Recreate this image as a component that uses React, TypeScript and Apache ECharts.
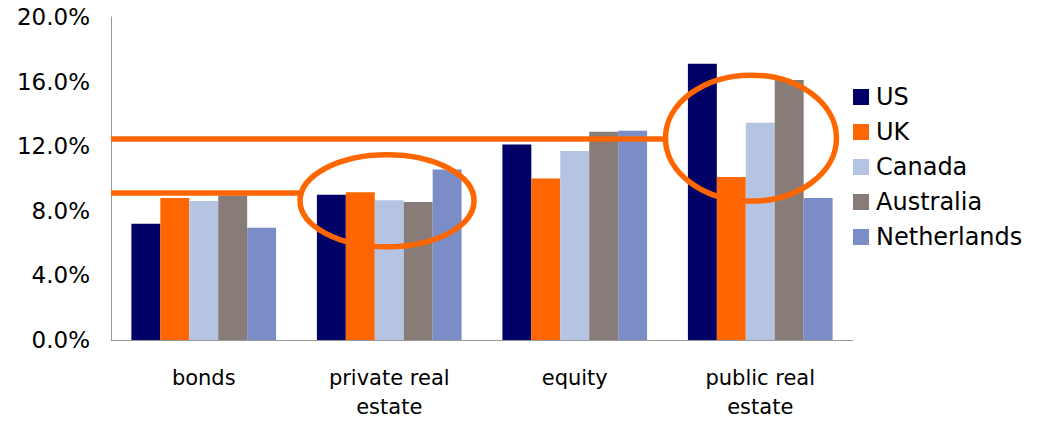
import React, { useEffect, useRef } from "react";
import * as echarts from "echarts";

const categories = ["bonds", "private real\nestate", "equity", "public real\nestate"];
const seriesNames = ["US", "UK", "Canada", "Australia", "Netherlands"];
const usValues = [7.2, 9.0, 12.1, 17.1];
const ukValues = [8.8, 9.15, 10.0, 10.1];
const canadaValues = [8.6, 8.65, 11.7, 13.45];
const australiaValues = [8.95, 8.55, 12.9, 16.1];
const netherlandsValues = [6.95, 10.55, 12.95, 8.8];
const seriesColors = ["#000066", "#FF6600", "#B4C4E2", "#877C77", "#7A8DC6"];

// annotation ellipses: centre in category units (0 = first category centre) and value units
const ellipseCats = [0.988, 2.95];
const ellipseValues = [8.62, 12.5];
const ellipseHalfWidthsCat = [0.469, 0.461];
const ellipseHalfHeightsValue = [2.85, 3.9];
// horizontal reference lines, each ending at the left edge of an ellipse
const refLineValues = [12.45, 9.1];
const refLineEllipse = [1, 0];

const ORANGE = "#FF6600";
const FONT = "DejaVu Sans";

export default function App() {
  const ref = useRef<HTMLDivElement>(null);
  useEffect(() => {
    if (!ref.current) return;
    const chart = echarts.init(ref.current, undefined, { renderer: "svg" });
    const allValues = [usValues, ukValues, canadaValues, australiaValues, netherlandsValues];
    chart.setOption({
      animation: false,
      grid: { left: 111, right: 186, top: 17, bottom: 78, containLabel: false },
      legend: {
        orient: "vertical",
        left: 853,
        top: 85,
        padding: 0,
        icon: "rect",
        itemWidth: 16,
        itemHeight: 16,
        itemGap: 11,
        data: seriesNames,
        textStyle: { fontFamily: FONT, fontSize: 24, color: "#000", lineHeight: 24, padding: [0, 0, 0, 2] },
      },
      xAxis: {
        type: "category",
        data: categories,
        axisLine: { lineStyle: { color: "#999999", width: 1 } },
        axisTick: { show: false },
        axisLabel: { fontFamily: FONT, fontSize: 21, color: "#000", lineHeight: 29, margin: 23 },
      },
      yAxis: {
        type: "value",
        min: 0,
        max: 20,
        interval: 4,
        splitLine: { show: false },
        axisLine: { show: true, lineStyle: { color: "#999999", width: 1 } },
        axisTick: { show: false },
        axisLabel: {
          fontFamily: FONT,
          fontSize: 23,
          color: "#000",
          margin: 21,
          formatter: (v: number) => `${v.toFixed(1)}%`,
        },
      },
      series: seriesNames.map((name, i) => ({
        name,
        type: "bar",
        data: allValues[i],
        barGap: "0%",
        barCategoryGap: "22%",
        itemStyle: { color: seriesColors[i] },
      })),
    });

    const x0 = chart.convertToPixel({ xAxisIndex: 0 }, 0) as number;
    const x1 = chart.convertToPixel({ xAxisIndex: 0 }, 1) as number;
    const xAt = (c: number) => x0 + (x1 - x0) * c;
    const yZero = chart.convertToPixel({ yAxisIndex: 0 }, 0) as number;
    const yOne = chart.convertToPixel({ yAxisIndex: 0 }, 10) as number;
    const perUnit = (yOne - yZero) / 10;
    const yAt = (v: number) => yZero + perUnit * v;

    const ellipses = ellipseCats.map((c, i) => ({
      cx: xAt(c),
      cy: yAt(ellipseValues[i]),
      rx: (x1 - x0) * ellipseHalfWidthsCat[i],
      ry: Math.abs(perUnit * ellipseHalfHeightsValue[i]),
    }));
    const leftEdge = xAt(-0.5);
    const graphics: any[] = [];
    refLineValues.forEach((v, i) => {
      const e = ellipses[refLineEllipse[i]];
      const y = yAt(v);
      const t = Math.max(0, 1 - ((y - e.cy) / e.ry) ** 2);
      const xEnd = e.cx - e.rx * Math.sqrt(t);
      graphics.push({
        type: "line",
        z: 100,
        shape: { x1: leftEdge, y1: y, x2: xEnd, y2: y },
        style: { stroke: ORANGE, lineWidth: 5.5 },
      });
    });
    ellipses.forEach((e) => {
      graphics.push({
        type: "ellipse",
        z: 100,
        shape: { cx: e.cx, cy: e.cy, rx: e.rx, ry: e.ry },
        style: { fill: "none", stroke: ORANGE, lineWidth: 5.5 },
      });
    });
    chart.setOption({ graphic: graphics });

    return () => chart.dispose();
  }, []);
  return (
    <div
      ref={ref}
      style={{ position: "absolute", left: 0, top: 0, width: 1039, height: 421, background: "#fff" }}
    />
  );
}
